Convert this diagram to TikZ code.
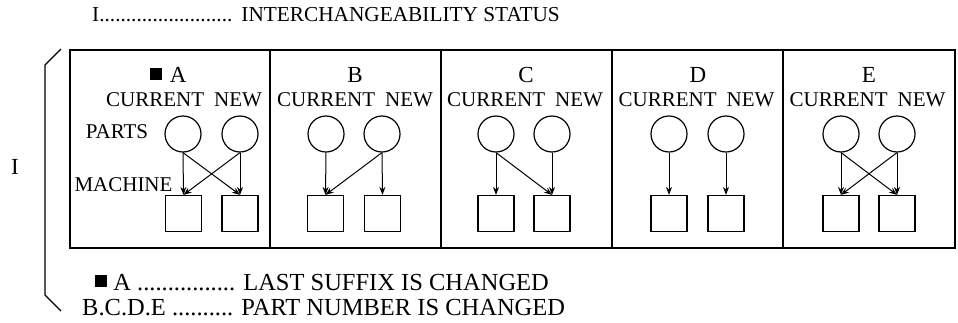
\documentclass[tikz,border=0pt]{standalone}
\usepackage{fontspec}
\setmainfont{Liberation Serif}
\usetikzlibrary{arrows.meta}
\newcommand{\blk}[1]{\raisebox{3pt}{\rule{#1}{#1}}}
\begin{document}
\begin{tikzpicture}[x=10pt,y=10pt]
\tikzstyle{every node}+=[inner sep=0pt,font=\fontsize{21}{25}\selectfont]
\tikzstyle{part}=[draw,circle,minimum size=36pt,line width=1.2pt]
\tikzstyle{slot}=[draw,rectangle,minimum size=36pt,line width=1.2pt]
\tikzstyle{feed}=[line width=1pt,-{Stealth[length=8pt,width=6pt]}]
\tikzstyle{head}=[font=\fontsize{23}{27}\selectfont]
\tikzstyle{key}=[anchor=west,font=\fontsize{24.5}{29}\selectfont]
\useasboundingbox (0,0) rectangle (95.8,-32.2);
\draw (9.2,-1.5) node [anchor=west,font=\fontsize{21.3}{25}\selectfont] (title) {I.........................\hspace{9pt}INTERCHANGEABILITY STATUS};
% bracket
\draw [line width=1.2pt] (6.1,-4.9) -- (4.5,-6.5) -- (4.5,-29.5) -- (6.1,-31.1);
\draw (1.5,-16.7) node [head] (lvl) {I};
% frame
\draw [line width=1.3pt] (7.0,-5.0) rectangle (95.5,-24.8);
\draw [line width=1.3pt] (27.0,-5.0) -- (27.0,-24.8);
\draw [line width=1.3pt] (44.1,-5.0) -- (44.1,-24.8);
\draw [line width=1.3pt] (61.2,-5.0) -- (61.2,-24.8);
\draw [line width=1.3pt] (78.3,-5.0) -- (78.3,-24.8);
% headers
\draw (16.85,-7.5) node [head] (hA) {\blk{11.5pt}\hspace{8pt}A};
\draw (35.5,-7.5) node [head] (hB) {B};
\draw (52.6,-7.5) node [head] (hC) {C};
\draw (69.8,-7.5) node [head] (hD) {D};
\draw (86.9,-7.5) node [head] (hE) {E};
\draw (18.4,-10.0) node (cnA) {CURRENT\hspace{10pt}NEW};
\draw (35.5,-10.0) node (cnB) {CURRENT\hspace{10pt}NEW};
\draw (52.5,-10.0) node (cnC) {CURRENT\hspace{10pt}NEW};
\draw (69.65,-10.0) node (cnD) {CURRENT\hspace{10pt}NEW};
\draw (86.75,-10.0) node (cnE) {CURRENT\hspace{10pt}NEW};
\draw (11.7,-13.2) node (parts) {PARTS};
\draw (12.35,-18.5) node (machine) {MACHINE};
% A
\node [part] (Acur) at (18.3,-13.4) {};
\node [part] (Anew) at (24.0,-13.4) {};
\node [slot] (Amc) at (18.35,-21.35) {};
\node [slot] (Amn) at (24.0,-21.35) {};
\draw [feed] (Acur.south) -- (Amc.north);
\draw [feed] (Acur.south) -- (Amn.north);
\draw [feed] (Anew.south) -- (Amn.north);
\draw [feed] (Anew.south) -- (Amc.north);
% B
\node [part] (Bcur) at (32.6,-13.4) {};
\node [part] (Bnew) at (38.2,-13.4) {};
\node [slot] (Bmc) at (32.55,-21.35) {};
\node [slot] (Bmn) at (38.25,-21.35) {};
\draw [feed] (Bcur.south) -- (Bmc.north);
\draw [feed] (Bnew.south) -- (Bmc.north);
\draw [feed] (Bnew.south) -- (Bmn.north);
% C
\node [part] (Ccur) at (49.6,-13.4) {};
\node [part] (Cnew) at (55.2,-13.4) {};
\node [slot] (Cmc) at (49.6,-21.35) {};
\node [slot] (Cmn) at (55.2,-21.35) {};
\draw [feed] (Ccur.south) -- (Cmc.north);
\draw [feed] (Ccur.south) -- (Cmn.north);
\draw [feed] (Cnew.south) -- (Cmn.north);
% D
\node [part] (Dcur) at (66.9,-13.4) {};
\node [part] (Dnew) at (72.6,-13.4) {};
\node [slot] (Dmc) at (66.9,-21.35) {};
\node [slot] (Dmn) at (72.6,-21.35) {};
\draw [feed] (Dcur.south) -- (Dmc.north);
\draw [feed] (Dnew.south) -- (Dmn.north);
% E
\node [part] (Ecur) at (84.1,-13.4) {};
\node [part] (Enew) at (89.7,-13.4) {};
\node [slot] (Emc) at (84.1,-21.35) {};
\node [slot] (Emn) at (89.7,-21.35) {};
\draw [feed] (Ecur.south) -- (Emc.north);
\draw [feed] (Ecur.south) -- (Emn.north);
\draw [feed] (Enew.south) -- (Emn.north);
\draw [feed] (Enew.south) -- (Emc.north);
% legend
\draw (9.5,-28.25) node [key] (keyA) {\blk{12pt} A ................ LAST SUFFIX IS CHANGED};
\draw (8.2,-30.75) node [key] (keyB) {B.C.D.E .......... PART NUMBER IS CHANGED};
\end{tikzpicture}
\end{document}
